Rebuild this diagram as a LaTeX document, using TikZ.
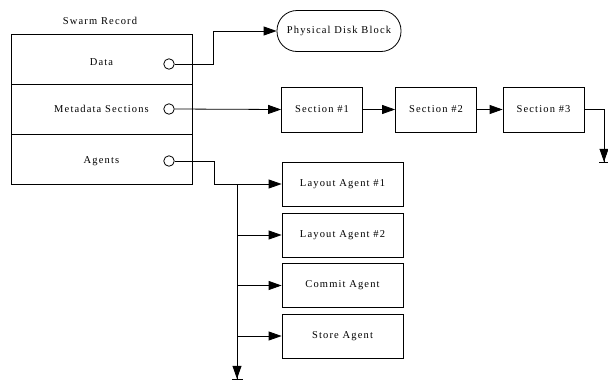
\documentclass[tikz,border=0pt]{standalone}
\usepackage{fontspec}
\setmainfont{Liberation Serif}[LetterSpace=11]
\usetikzlibrary{arrows.meta}

\tikzset{
	row/.style={draw,line width=0.8pt,minimum width=181pt,minimum height=50pt,inner sep=0pt},
	box/.style={draw,line width=0.8pt,minimum width=81pt,minimum height=45pt,inner sep=0pt},
	agentbox/.style={box,minimum width=121pt,minimum height=44pt},
	port/.style={draw,circle,line width=0.8pt,minimum size=10.5pt,inner sep=0pt},
	endtip/.style={-{Triangle[length=13pt,width=9pt,sep=0pt]Bar[width=11pt,line width=1.2pt]}}
}

\begin{document}
\begin{tikzpicture}[x=1pt,y=-1pt,font=\fontsize{10.5}{12}\selectfont,
	>={Triangle[length=13pt,width=9pt]},line width=0.8pt]

		\useasboundingbox (0,0) rectangle (608,383);

		\node (title) at (100,21) {Swarm Record};
		\node [row] (data) at (101.5,59) {};
		\node [row] (meta) at (101.5,109) {};
		\node [row] (agents) at (101.5,159) {};
		\node (datatext) at (101.5,62) {Data};
		\node (metatext) at (101.5,109) {Metadata Sections};
		\node (agentstext) at (101.5,161) {Agents};

		\node [port] (pd) at (169,64) {};
		\node [port] (pm) at (169,109) {};
		\node [port] (pa) at (169,161) {};

		\node [draw,rounded corners=20pt,minimum width=124pt,minimum height=41pt,inner sep=0pt] (disk) at (339,31) {Physical Disk Block};

		\node [box] (sec1) at (322,109.5) {Section \#1};
		\node [box] (sec2) at (436,109.5) {Section \#2};
		\node [box] (sec3) at (543.5,109.5) {Section \#3};

		\node [agentbox] (ag1) at (342.5,184) {Layout Agent \#1};
		\node [agentbox] (ag2) at (342.5,235) {Layout Agent \#2};
		\node [agentbox] (ag3) at (342.5,285.5) {Commit Agent};
		\node [agentbox] (ag4) at (342.5,336) {Store Agent};

		\coordinate (secend) at (604,163);
		\coordinate (trunk) at (237,184);
		\coordinate (trunkend) at (237,380);

		\draw [->] (pd.east) -- ++(38.5,0) |- (disk.west);
		\draw [->] (pm.east) -- (sec1.west);
		\draw [->] (sec1) -- (sec2);
		\draw [->] (sec2) -- (sec3);
		\draw [endtip] (sec3.east) -| (secend);

		\draw [->] (pa.east) -- ++(39.5,0) |- (ag1.west);
		\draw [endtip] (trunk) -- (trunkend);
		\foreach \a in {ag2,ag3,ag4}
			\draw [->] (trunk |- \a.west) -- (\a.west);

\end{tikzpicture}
\end{document}
